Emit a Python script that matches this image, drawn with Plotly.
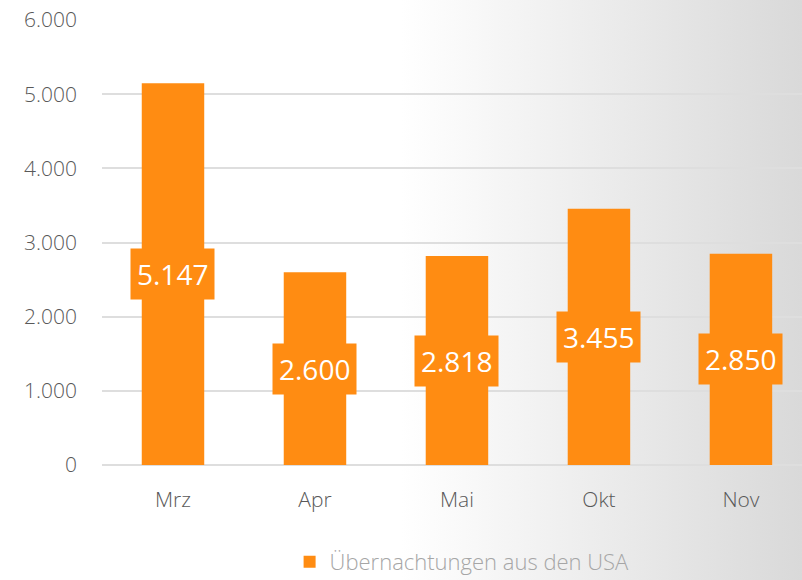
import base64
import plotly.graph_objects as go

# Daten
monate = ["Mrz", "Apr", "Mai", "Okt", "Nov"]
uebernachtungen = [5147, 2600, 2818, 3455, 2850]
serie_name = "Übernachtungen aus den USA"

orange = "#FF8C12"
grau_text = "#595959"

def de_format(v):
    return f"{v:,}".replace(",", ".")

# Hintergrund-Verlauf (weiß -> grau nach rechts)
svg = (
    '<svg xmlns="http://www.w3.org/2000/svg" width="802" height="580">'
    '<defs><linearGradient id="g" x1="0" y1="0" x2="1" y2="0">'
    '<stop offset="0" stop-color="#ffffff"/>'
    '<stop offset="0.5" stop-color="#ffffff"/>'
    '<stop offset="1" stop-color="#d9d9d9"/>'
    '</linearGradient></defs>'
    '<rect width="802" height="580" fill="url(#g)"/></svg>'
)
bg_src = "data:image/svg+xml;base64," + base64.b64encode(svg.encode()).decode()

fig = go.Figure()
fig.add_trace(go.Bar(
    x=monate,
    y=uebernachtungen,
    name=serie_name,
    marker=dict(color=orange, line=dict(width=0)),
    width=0.44,
    showlegend=True,
))

# Datenbeschriftungen mitten im Balken
for m, v in zip(monate, uebernachtungen):
    fig.add_annotation(
        x=m, y=v / 2, text=de_format(v), showarrow=False,
        font=dict(family="Open Sans", size=28, color="white", weight=400),
        bgcolor=orange, borderpad=6,
    )

L, R, T, B = 102, 0, 20, 115
W, H = 802, 580
pw, ph = W - L - R, H - T - B

fig.add_layout_image(
    source=bg_src, xref="paper", yref="paper",
    x=-L / pw, y=1 + T / ph, sizex=W / pw, sizey=H / ph,
    xanchor="left", yanchor="top", sizing="stretch", layer="below",
)

fig.update_layout(
    width=W, height=H,
    margin=dict(l=L, r=R, t=T, b=B, autoexpand=False),
    paper_bgcolor="rgba(0,0,0,0)",
    plot_bgcolor="rgba(0,0,0,0)",
    separators=",.",
    font=dict(family="Open Sans", color=grau_text, size=21, weight=300),
    xaxis=dict(
        range=[-0.5, 4.43], showgrid=False, showline=False,
        ticks="", ticklabelstandoff=20,
        tickfont=dict(size=21, color=grau_text, weight=300),
    ),
    yaxis=dict(
        range=[0, 6000], dtick=1000, tickformat=",d",
        showgrid=True, gridcolor="#dedede", gridwidth=1.5,
        zeroline=True, zerolinecolor="#dedede", zerolinewidth=1.5,
        ticks="", ticklabelstandoff=24,
        tickfont=dict(size=21, color=grau_text, weight=300),
    ),
    legend=dict(
        orientation="h", x=0.268, y=-0.218, xanchor="left", yanchor="middle",
        font=dict(size=22, color="#a6a6a6", weight=300), bgcolor="rgba(0,0,0,0)",
    ),
    bargap=0.56,
)

fig.write_html(
    "out.html",
    config={"displayModeBar": False},
    post_script="document.body.style.margin='0';document.body.style.overflow='hidden';",
)
